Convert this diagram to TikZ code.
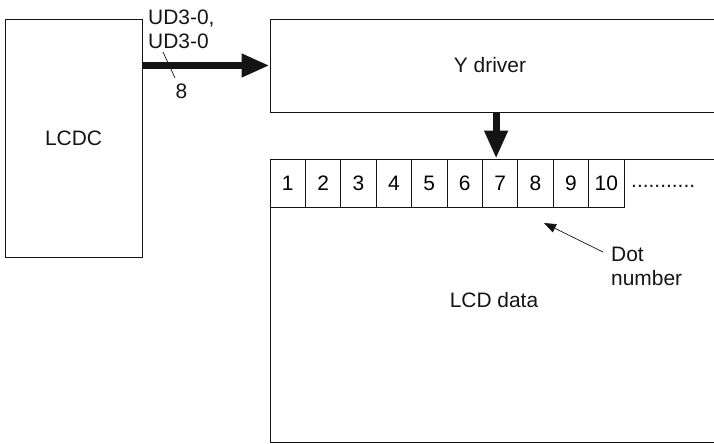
\documentclass[tikz,border=0pt]{standalone}
\usepackage{fontspec}
\setmainfont{Liberation Sans}
\usepackage{tikz}
\usetikzlibrary{arrows.meta,positioning}
\usepackage{xcolor}
\definecolor{ink}{RGB}{20,20,20}
\tikzset{
  frame/.style={draw=ink,line width=0.9bp,inner sep=0pt},
  cell/.style={draw=ink,line width=0.8bp,minimum width=35.4bp,minimum height=48bp,
    inner sep=0pt,font=\fontsize{21}{24}\selectfont},
  bus/.style={-{Triangle[length=28bp,width=22bp]},line width=7bp,ink},
  ptr/.style={-{Triangle[length=12bp,width=9bp]},line width=0.7bp,ink},
  lbl/.style={font=\fontsize{21}{24}\selectfont,text=ink,align=left,inner sep=0pt},
}

\begin{document}
\begin{tikzpicture}[x=1bp,y=-1bp]
  \useasboundingbox (0,0) rectangle (714,444);
  \clip (0,0) rectangle (714,444);
  % blocks (right side runs off the page)
  \node[frame,lbl,minimum width=137bp,minimum height=238bp] (lcdc) at (73.5,138) {LCDC};
  \node[frame,minimum width=460bp,minimum height=93bp] (ydrv) at (500,65.5) {};
  \node[lbl] (ydrvtxt) at (490,65.5) {Y driver};
  \node[frame,minimum width=460bp,minimum height=283bp] (lcd) at (500,300.5) {};
  \node[lbl] (lcdtxt) at (494,300.5) {LCD data};
  % dot cells
  \foreach \i in {1,...,10}
    \node[cell] (c\i) at ({270+35.4*(\i-0.5)},183) {\i};
  \node[lbl,anchor=base west] (more) at (631,188) {...........};
  % buses
  \draw[bus] (lcdc.east |- ydrv.west) -- (ydrv.west);
  \draw[bus] ([xshift=-4bp]c7.north |- ydrv.south) -- ([xshift=-4bp]c7.north);
  \node[lbl,anchor=north west] (udlbl) at (148,10) {UD3-0,\\UD3-0};
  \draw[ink,line width=0.7bp] (163,52) -- (175,78);
  \node[lbl] (buswidth) at (181.5,91.5) {8};
  % dot number pointer
  \node[lbl,anchor=north west] (dotno) at (611,247) {Dot\\number};
  \coordinate (dotpt) at (544,223);
  \draw[ptr] ([shift={(-8bp,-5bp)}]dotno.north west) -- (dotpt);
\end{tikzpicture}
\end{document}
